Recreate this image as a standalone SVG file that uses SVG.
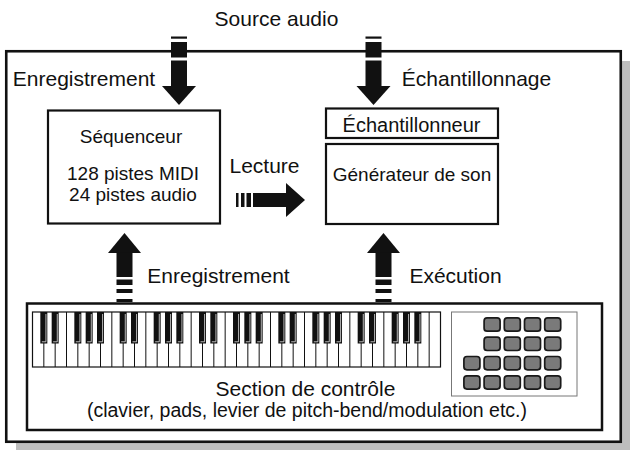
<svg xmlns="http://www.w3.org/2000/svg" width="631" height="451" viewBox="0 0 631 451">
<style>
text{font-family:"Liberation Sans",Arial,sans-serif;fill:#111;}
.lbl{font-size:21px;}
.box-t{font-size:19px;text-anchor:middle;}
.box{fill:#fff;stroke:#111;stroke-width:2.2;}
.arr{fill:#111;stroke:none;}
.wk{fill:none;stroke:#111;stroke-width:1;}
.bk{fill:#111;}
.hl{fill:none;stroke:#e6e6e6;stroke-width:0.8;}
.pad{fill:#7a7a7a;stroke:#1a1a1a;stroke-width:1.7;}
</style>
<defs>
<g id="downArrow">
<rect x="-8" y="36.5" width="16" height="2.2"/>
<rect x="-8" y="42" width="16" height="15.5"/>
<rect x="-8" y="60.5" width="16" height="26"/>
<polygon points="-17,86 17,86 0,105"/>
</g>
<g id="upArrow">
<polygon points="0,233 -16.5,253 16.5,253"/>
<rect x="-8" y="252.5" width="16" height="24.5"/>
<rect x="-8" y="279.5" width="16" height="5.5"/>
<rect x="-8" y="289" width="16" height="4"/>
<rect x="-8" y="299" width="16" height="3"/>
</g>
</defs>

<!-- outer frame with shadow -->
<rect x="16" y="61" width="614" height="389" fill="#bdbdbd"/>
<rect x="6.25" y="51.25" width="614.5" height="390.5" fill="#fff" stroke="#111" stroke-width="2.6"/>

<text class="lbl" x="276.5" y="26" text-anchor="middle">Source audio</text>
<text class="lbl" x="84" y="86" text-anchor="middle">Enregistrement</text>
<text class="lbl" x="476.5" y="86" text-anchor="middle">Échantillonnage</text>
<text class="lbl" x="264.5" y="172.5" text-anchor="middle">Lecture</text>
<text class="lbl" x="218.5" y="283" text-anchor="middle">Enregistrement</text>
<text class="lbl" x="455.5" y="283" text-anchor="middle">Exécution</text>

<g id="connectors" class="arr">
<use href="#downArrow" transform="translate(179,0)"/>
<use href="#downArrow" transform="translate(373.5,0)"/>
<use href="#upArrow" transform="translate(124.5,0)"/>
<use href="#upArrow" transform="translate(383.5,0)"/>
<g id="lecture-arrow">
<rect x="236" y="193" width="2.5" height="14"/>
<rect x="241" y="193" width="3.5" height="14"/>
<rect x="246.5" y="193" width="4.5" height="14"/>
<rect x="253" y="193" width="34" height="14"/>
<polygon points="286,183 305,200 286,217"/>
</g>
</g>

<g id="sequenceur">
<rect class="box" x="48" y="110.5" width="172" height="113"/>
<text class="box-t" x="131" y="143">Séquenceur</text>
<text class="box-t" x="133" y="180">128 pistes MIDI</text>
<text class="box-t" x="133" y="201">24 pistes audio</text>
</g>

<g id="echantillonneur">
<rect class="box" x="326" y="108.5" width="172" height="29.5"/>
<text class="box-t" x="411.5" y="132" style="font-size:20px">Échantillonneur</text>
</g>

<g id="generateur">
<rect class="box" x="326" y="144" width="172" height="80"/>
<text class="box-t" x="412" y="181">Générateur de son</text>
</g>

<g id="controle">
<rect x="27" y="303.5" width="575" height="126.5" fill="#fff" stroke="#111" stroke-width="2.5"/>
<g id="keyboard">
<rect x="32.5" y="312" width="408" height="55" fill="#fff" stroke="#111" stroke-width="1.2"/>
<path class="wk" d="M43.83 312V367M55.17 312V367M66.5 312V367M77.83 312V367M89.17 312V367M100.5 312V367M111.83 312V367M123.17 312V367M134.5 312V367M145.83 312V367M157.17 312V367M168.5 312V367M179.83 312V367M191.17 312V367M202.5 312V367M213.83 312V367M225.17 312V367M236.5 312V367M247.83 312V367M259.17 312V367M270.5 312V367M281.83 312V367M293.17 312V367M304.5 312V367M315.83 312V367M327.17 312V367M338.5 312V367M349.83 312V367M361.17 312V367M372.5 312V367M383.83 312V367M395.17 312V367M406.5 312V367M417.83 312V367M429.17 312V367"/>
<g class="bk">
<rect x="40.33" y="312" width="7" height="31.5"/><rect x="51.67" y="312" width="7" height="31.5"/>
<rect x="74.33" y="312" width="7" height="31.5"/><rect x="85.67" y="312" width="7" height="31.5"/><rect x="97" y="312" width="7" height="31.5"/>
<rect x="119.67" y="312" width="7" height="31.5"/><rect x="131" y="312" width="7" height="31.5"/>
<rect x="153.67" y="312" width="7" height="31.5"/><rect x="165" y="312" width="7" height="31.5"/><rect x="176.33" y="312" width="7" height="31.5"/>
<rect x="199" y="312" width="7" height="31.5"/><rect x="210.33" y="312" width="7" height="31.5"/>
<rect x="233" y="312" width="7" height="31.5"/><rect x="244.33" y="312" width="7" height="31.5"/><rect x="255.67" y="312" width="7" height="31.5"/>
<rect x="278.33" y="312" width="7" height="31.5"/><rect x="289.67" y="312" width="7" height="31.5"/>
<rect x="312.33" y="312" width="7" height="31.5"/><rect x="323.67" y="312" width="7" height="31.5"/><rect x="335" y="312" width="7" height="31.5"/>
<rect x="357.67" y="312" width="7" height="31.5"/><rect x="369" y="312" width="7" height="31.5"/>
<rect x="391.67" y="312" width="7" height="31.5"/><rect x="403" y="312" width="7" height="31.5"/><rect x="414.33" y="312" width="7" height="31.5"/>
</g>
<path class="hl" d="M45.93 314V341.8H41.83M57.27 314V341.8H53.17M79.93 314V341.8H75.83M91.27 314V341.8H87.17M102.6 314V341.8H98.5M125.27 314V341.8H121.17M136.6 314V341.8H132.5M159.27 314V341.8H155.17M170.6 314V341.8H166.5M181.93 314V341.8H177.83M204.6 314V341.8H200.5M215.93 314V341.8H211.83M238.6 314V341.8H234.5M249.93 314V341.8H245.83M261.27 314V341.8H257.17M283.93 314V341.8H279.83M295.27 314V341.8H291.17M317.93 314V341.8H313.83M329.27 314V341.8H325.17M340.6 314V341.8H336.5M363.27 314V341.8H359.17M374.6 314V341.8H370.5M397.27 314V341.8H393.17M408.6 314V341.8H404.5M419.93 314V341.8H415.83"/>
</g>
<g id="pads">
<rect x="451.5" y="312" width="125.5" height="84" style="fill:#ffffff;stroke:#777;stroke-width:1"/>
<rect class="pad" x="484.1" y="317.9" width="16" height="13.3" rx="3"/><rect class="pad" x="504.3" y="317.9" width="16" height="13.3" rx="3"/><rect class="pad" x="524.5" y="317.9" width="16" height="13.3" rx="3"/><rect class="pad" x="544.7" y="317.9" width="16" height="13.3" rx="3"/>
<rect class="pad" x="484.1" y="337.2" width="16" height="13.3" rx="3"/><rect class="pad" x="504.3" y="337.2" width="16" height="13.3" rx="3"/><rect class="pad" x="524.5" y="337.2" width="16" height="13.3" rx="3"/><rect class="pad" x="544.7" y="337.2" width="16" height="13.3" rx="3"/>
<rect class="pad" x="463.9" y="356.5" width="16" height="13.3" rx="3"/><rect class="pad" x="484.1" y="356.5" width="16" height="13.3" rx="3"/><rect class="pad" x="504.3" y="356.5" width="16" height="13.3" rx="3"/><rect class="pad" x="524.5" y="356.5" width="16" height="13.3" rx="3"/><rect class="pad" x="544.7" y="356.5" width="16" height="13.3" rx="3"/>
<rect class="pad" x="463.9" y="375.8" width="16" height="13.3" rx="3"/><rect class="pad" x="484.1" y="375.8" width="16" height="13.3" rx="3"/><rect class="pad" x="504.3" y="375.8" width="16" height="13.3" rx="3"/><rect class="pad" x="524.5" y="375.8" width="16" height="13.3" rx="3"/><rect class="pad" x="544.7" y="375.8" width="16" height="13.3" rx="3"/>
</g>
<text class="lbl" x="305.5" y="396" text-anchor="middle">Section de contrôle</text>
<text x="307" y="417" text-anchor="middle" style="font-size:19.5px">(clavier, pads, levier de pitch-bend/modulation etc.)</text>
</g>
</svg>
